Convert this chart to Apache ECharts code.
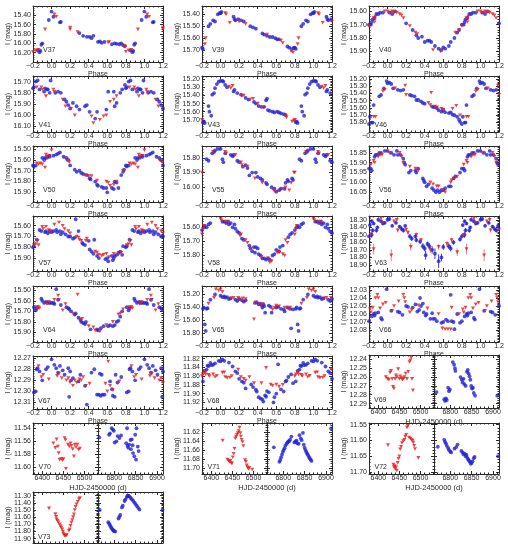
<!DOCTYPE html>
<html>
<head>
<meta charset="utf-8">
<script src="https://cdn.jsdelivr.net/npm/echarts@6/dist/echarts.min.js"></script>
<style>
html, body { margin: 0; padding: 0; background: #fff; }
#chart { width: 508px; height: 547px; }
</style>
</head>
<body>
<div id="chart"></div>
<script>
// phase-folded light curves: [phase, I mag] (phase 0..1, repeated on -0.2..1.2 when drawn)
var v37Blue = [[0.00,15.32],[0.02,15.43],[0.09,15.55],[0.10,15.54],[0.30,15.78],[0.34,15.84],[0.38,15.86],[0.41,15.86],[0.43,15.89],[0.45,15.84],[0.50,15.97],[0.52,15.96],[0.54,15.99],[0.57,15.97],[0.65,16.02],[0.68,16.00],[0.70,16.01],[0.73,16.02],[0.75,16.00],[0.77,16.04],[0.79,16.06],[0.85,16.15],[0.87,16.19],[0.88,16.16],[0.89,16.03],[0.90,16.00],[0.97,15.50]];
var v37Red = [[0.03,15.38],[0.05,15.43],[0.20,15.66],[0.20,15.70],[0.28,15.76],[0.61,15.98],[0.62,15.97],[0.78,16.06],[0.79,16.07],[0.80,16.18],[0.83,16.15],[0.86,16.14],[0.93,15.70]];
var v39Blue = [[0.00,15.39],[0.01,15.38],[0.14,15.42],[0.15,15.44],[0.16,15.45],[0.19,15.44],[0.22,15.45],[0.25,15.46],[0.32,15.50],[0.35,15.51],[0.38,15.52],[0.45,15.56],[0.47,15.57],[0.50,15.58],[0.53,15.59],[0.56,15.59],[0.59,15.60],[0.61,15.61],[0.63,15.61],[0.72,15.67],[0.74,15.68],[0.77,15.69],[0.79,15.68],[0.80,15.68],[0.81,15.69],[0.87,15.50],[0.89,15.48],[0.92,15.45],[0.94,15.46],[0.97,15.40],[0.99,15.39]];
var v39Red = [[0.05,15.39],[0.06,15.40],[0.10,15.47],[0.20,15.46],[0.27,15.48],[0.50,15.57],[0.65,15.62],[0.67,15.64],[0.76,15.71],[0.78,15.72],[0.83,15.65],[0.84,15.60]];
var v40Blue = [[0.02,15.61],[0.05,15.62],[0.08,15.60],[0.20,15.69],[0.27,15.74],[0.31,15.78],[0.33,15.80],[0.37,15.79],[0.40,15.83],[0.43,15.82],[0.45,15.82],[0.47,15.83],[0.51,15.86],[0.55,15.88],[0.58,15.89],[0.60,15.87],[0.62,15.88],[0.66,15.86],[0.68,15.83],[0.72,15.80],[0.75,15.76],[0.77,15.74],[0.80,15.70],[0.82,15.70],[0.83,15.68],[0.84,15.66],[0.86,15.65],[0.88,15.62],[0.90,15.62],[0.92,15.61],[0.95,15.61]];
var v40Red = [[0.00,15.60],[0.03,15.61],[0.05,15.60],[0.07,15.61],[0.10,15.61],[0.13,15.62],[0.15,15.63],[0.17,15.65],[0.24,15.71],[0.30,15.76],[0.32,15.77],[0.49,15.89],[0.57,15.90],[0.73,15.76],[0.77,15.74],[0.80,15.71],[0.85,15.65],[0.86,15.68],[0.87,15.64],[0.97,15.60]];
var v41Blue = [[0.04,15.80],[0.07,15.79],[0.10,15.80],[0.14,15.86],[0.16,15.88],[0.18,15.91],[0.20,15.94],[0.23,15.89],[0.27,15.92],[0.30,15.95],[0.36,15.92],[0.38,15.91],[0.41,15.97],[0.47,16.03],[0.49,15.97],[0.59,15.95],[0.61,15.79],[0.67,15.79],[0.68,15.92],[0.70,15.89],[0.74,15.80],[0.76,15.77],[0.79,15.73],[0.80,15.76],[0.81,15.75],[0.83,15.70],[0.85,15.69],[0.87,15.77],[0.92,15.79],[0.93,15.76],[0.95,15.77],[0.96,15.77],[0.98,15.80],[0.99,15.69]];
var v41Red = [[0.02,15.77],[0.03,15.79],[0.12,15.86],[0.15,15.92],[0.21,15.94],[0.25,16.00],[0.43,16.01],[0.45,16.07],[0.52,16.04],[0.56,16.01],[0.59,16.00],[0.63,15.88],[0.67,15.86],[0.70,15.83],[0.84,15.75],[0.89,15.75],[0.90,15.77],[0.94,15.83]];
var v43Blue = [[0.00,15.22],[0.02,15.22],[0.03,15.23],[0.05,15.27],[0.07,15.30],[0.14,15.35],[0.15,15.33],[0.18,15.37],[0.22,15.39],[0.27,15.43],[0.30,15.45],[0.36,15.48],[0.38,15.50],[0.41,15.53],[0.44,15.54],[0.47,15.54],[0.49,15.46],[0.50,15.44],[0.51,15.58],[0.53,15.59],[0.56,15.60],[0.58,15.61],[0.61,15.60],[0.63,15.61],[0.65,15.62],[0.68,15.63],[0.70,15.64],[0.81,15.73],[0.82,15.72],[0.83,15.74],[0.87,15.53],[0.88,15.60],[0.90,15.65],[0.91,15.39],[0.93,15.37],[0.94,15.31],[0.96,15.26],[0.98,15.23]];
var v43Red = [[0.09,15.29],[0.11,15.31],[0.13,15.28],[0.23,15.41],[0.25,15.40],[0.32,15.45],[0.35,15.44],[0.40,15.50],[0.46,15.55],[0.70,15.65],[0.71,15.67],[0.77,15.72],[0.79,15.71],[0.80,15.70]];
var v46Blue = [[0.00,15.26],[0.02,15.25],[0.04,15.27],[0.06,15.33],[0.11,15.35],[0.14,15.36],[0.17,15.35],[0.24,15.42],[0.26,15.43],[0.29,15.44],[0.31,15.49],[0.33,15.49],[0.36,15.51],[0.38,15.53],[0.40,15.54],[0.48,15.58],[0.50,15.59],[0.53,15.60],[0.55,15.63],[0.58,15.65],[0.60,15.63],[0.62,15.66],[0.66,15.67],[0.68,15.66],[0.70,15.69],[0.72,15.70],[0.75,15.72],[0.77,15.76],[0.78,15.79],[0.80,15.82],[0.81,15.72],[0.83,15.80],[0.84,15.80],[0.85,15.56],[0.91,15.44],[0.93,15.42],[0.96,15.33],[0.99,15.23]];
var v46Red = [[0.08,15.33],[0.19,15.29],[0.20,15.42],[0.44,15.53],[0.46,15.56],[0.47,15.39],[0.51,15.58],[0.53,15.59],[0.58,15.61],[0.60,15.62],[0.70,15.61],[0.74,15.57],[0.78,15.70],[0.85,15.72],[0.87,15.72],[0.95,15.37],[0.97,15.35]];
var v50Blue = [[0.02,15.56],[0.05,15.55],[0.07,15.54],[0.09,15.53],[0.13,15.57],[0.16,15.58],[0.18,15.60],[0.20,15.65],[0.25,15.69],[0.27,15.71],[0.30,15.70],[0.32,15.72],[0.34,15.73],[0.38,15.74],[0.41,15.77],[0.42,15.78],[0.47,15.80],[0.49,15.83],[0.50,15.84],[0.54,15.85],[0.56,15.86],[0.59,15.86],[0.60,15.90],[0.65,15.86],[0.67,15.87],[0.68,15.80],[0.70,15.81],[0.72,15.86],[0.75,15.74],[0.77,15.71],[0.78,15.69],[0.80,15.65],[0.81,15.66],[0.83,15.65],[0.90,15.58],[0.92,15.60],[0.93,15.58],[0.95,15.58],[0.97,15.56],[0.98,15.57]];
var v50Red = [[0.00,15.51],[0.16,15.60],[0.19,15.62],[0.36,15.74],[0.40,15.75],[0.43,15.75],[0.49,15.79],[0.59,15.80],[0.61,15.81],[0.63,15.84],[0.67,15.83],[0.70,15.80],[0.77,15.70],[0.84,15.63],[0.86,15.64],[0.88,15.63],[0.90,15.64],[0.93,15.67],[0.94,15.55],[0.95,15.57],[0.98,15.56]];
var v55Blue = [[0.00,15.74],[0.02,15.81],[0.03,15.83],[0.05,15.77],[0.11,15.78],[0.13,15.79],[0.14,15.78],[0.18,15.82],[0.20,15.83],[0.24,15.86],[0.27,15.85],[0.29,15.87],[0.31,15.92],[0.34,15.90],[0.38,15.90],[0.40,15.93],[0.43,15.94],[0.45,15.95],[0.49,15.97],[0.50,15.98],[0.55,16.00],[0.58,16.01],[0.60,16.03],[0.63,16.02],[0.65,16.01],[0.69,16.01],[0.70,15.97],[0.72,15.95],[0.73,15.96],[0.77,15.94],[0.78,15.95],[0.85,15.81],[0.87,15.82],[0.91,15.77],[0.93,15.76],[0.94,15.75],[0.97,15.74]];
var v55Red = [[0.05,15.76],[0.06,15.77],[0.16,15.78],[0.22,15.83],[0.23,15.85],[0.29,15.86],[0.37,15.94],[0.45,15.97],[0.57,16.02],[0.59,16.03],[0.66,16.01],[0.70,16.00],[0.74,16.02],[0.76,15.97],[0.79,15.90],[0.80,15.90],[0.92,15.76]];
var v56Blue = [[0.00,15.84],[0.04,15.85],[0.07,15.86],[0.10,15.84],[0.11,15.86],[0.14,15.86],[0.17,15.88],[0.18,15.90],[0.19,15.91],[0.23,15.95],[0.25,15.94],[0.30,15.94],[0.31,15.95],[0.33,15.93],[0.38,15.98],[0.39,15.99],[0.40,16.00],[0.42,16.02],[0.44,16.01],[0.48,16.03],[0.50,16.04],[0.52,16.05],[0.54,16.04],[0.56,16.05],[0.58,16.04],[0.60,16.04],[0.62,16.03],[0.66,16.02],[0.68,16.02],[0.71,15.98],[0.73,15.97],[0.78,15.95],[0.80,15.93],[0.82,15.93],[0.83,15.94],[0.86,15.87],[0.87,15.86],[0.89,15.86],[0.91,15.85],[0.93,15.85],[0.97,15.84]];
var v56Red = [[0.02,15.85],[0.13,15.85],[0.15,15.87],[0.17,15.90],[0.24,15.92],[0.30,15.93],[0.33,15.94],[0.46,16.00],[0.49,16.01],[0.53,16.02],[0.55,16.02],[0.59,16.04],[0.62,16.05],[0.68,16.00],[0.69,15.99],[0.72,15.98],[0.75,15.97],[0.82,15.91],[0.85,15.89],[0.86,15.90],[0.90,15.87],[0.92,15.86],[0.94,15.86]];
var v57Blue = [[0.00,15.66],[0.02,15.65],[0.05,15.64],[0.06,15.66],[0.09,15.65],[0.10,15.68],[0.12,15.66],[0.15,15.68],[0.18,15.70],[0.20,15.70],[0.23,15.72],[0.25,15.71],[0.26,15.54],[0.29,15.65],[0.33,15.76],[0.34,15.77],[0.36,15.78],[0.40,15.74],[0.41,15.82],[0.43,15.84],[0.45,15.86],[0.46,15.73],[0.49,15.88],[0.51,15.90],[0.58,15.91],[0.60,15.90],[0.61,15.93],[0.65,15.88],[0.66,15.92],[0.67,15.90],[0.68,15.88],[0.70,15.87],[0.72,15.85],[0.74,15.84],[0.76,15.87],[0.77,15.79],[0.80,15.80],[0.81,15.79],[0.84,15.73],[0.87,15.64],[0.89,15.65],[0.93,15.66],[0.94,15.65],[0.96,15.67],[0.98,15.65]];
var v57Red = [[0.03,15.59],[0.08,15.57],[0.12,15.60],[0.14,15.63],[0.18,15.65],[0.20,15.67],[0.27,15.70],[0.29,15.71],[0.30,15.73],[0.32,15.74],[0.37,15.74],[0.38,15.72],[0.47,15.84],[0.49,15.85],[0.51,15.87],[0.54,15.88],[0.56,15.87],[0.59,15.86],[0.62,15.89],[0.67,15.86],[0.72,15.87],[0.75,15.85],[0.81,15.78],[0.83,15.77],[0.85,15.74],[0.86,15.78],[0.90,15.61],[0.91,15.63],[0.94,15.61],[0.97,15.64],[0.99,15.65]];
var v58Blue = [[0.02,15.56],[0.04,15.56],[0.06,15.57],[0.08,15.56],[0.09,15.58],[0.11,15.57],[0.13,15.60],[0.15,15.58],[0.16,15.61],[0.18,15.63],[0.20,15.64],[0.23,15.68],[0.25,15.69],[0.31,15.73],[0.32,15.75],[0.34,15.77],[0.36,15.74],[0.37,15.78],[0.38,15.74],[0.40,15.75],[0.41,15.79],[0.43,15.80],[0.45,15.82],[0.47,15.82],[0.49,15.83],[0.51,15.82],[0.53,15.83],[0.56,15.80],[0.58,15.79],[0.60,15.76],[0.63,15.77],[0.64,15.74],[0.67,15.73],[0.73,15.67],[0.75,15.65],[0.77,15.64],[0.80,15.62],[0.82,15.60],[0.83,15.59],[0.85,15.60],[0.87,15.58],[0.89,15.57]];
var v58Red = [[0.00,15.54],[0.01,15.55],[0.05,15.56],[0.08,15.56],[0.21,15.66],[0.22,15.65],[0.27,15.69],[0.29,15.71],[0.33,15.75],[0.44,15.81],[0.51,15.82],[0.53,15.85],[0.55,15.84],[0.61,15.78],[0.63,15.78],[0.67,15.79],[0.69,15.80],[0.70,15.69],[0.72,15.71],[0.80,15.65],[0.81,15.61],[0.82,15.59]];
// V63 has error bars: [phase, mag, error]
var v63Blue = [[0.00,18.30,0.02],[0.02,18.29,0.02],[0.05,18.38,0.02],[0.09,18.34,0.02],[0.13,18.39,0.02],[0.15,18.42,0.03],[0.17,18.44,0.03],[0.19,18.38,0.02],[0.24,18.52,0.03],[0.26,18.55,0.03],[0.30,18.52,0.03],[0.31,18.57,0.03],[0.35,18.59,0.03],[0.38,18.65,0.04],[0.40,18.68,0.04],[0.41,18.77,0.06],[0.43,18.62,0.03],[0.45,18.65,0.04],[0.48,18.70,0.05],[0.51,18.75,0.07],[0.55,18.85,0.09],[0.58,18.80,0.05],[0.60,18.66,0.04],[0.66,18.65,0.04],[0.68,18.68,0.04],[0.71,18.60,0.03],[0.78,18.56,0.03],[0.80,18.52,0.03],[0.81,18.37,0.02],[0.83,18.32,0.02],[0.83,18.50,0.04],[0.84,18.44,0.03],[0.85,18.35,0.02],[0.88,18.44,0.03],[0.89,18.40,0.02],[0.90,18.30,0.02],[0.93,18.32,0.02],[0.95,18.35,0.02],[0.97,18.34,0.02]];
var v63Red = [[0.04,18.77,0.08],[0.07,18.32,0.02],[0.10,18.30,0.02],[0.11,18.44,0.03],[0.20,18.43,0.03],[0.22,18.47,0.03],[0.25,18.66,0.05],[0.31,18.50,0.03],[0.36,18.57,0.03],[0.46,18.70,0.04],[0.55,18.66,0.04],[0.64,18.62,0.04],[0.69,18.57,0.03],[0.75,18.73,0.05],[0.82,18.50,0.03],[0.85,18.69,0.07],[0.93,18.28,0.02],[0.95,18.34,0.02]];
var v64Blue = [[0.00,15.62],[0.02,15.62],[0.03,15.63],[0.05,15.49],[0.07,15.59],[0.10,15.64],[0.16,15.66],[0.18,15.67],[0.19,15.68],[0.21,15.70],[0.25,15.73],[0.26,15.72],[0.29,15.76],[0.31,15.78],[0.32,15.80],[0.34,15.81],[0.36,15.82],[0.37,15.80],[0.42,15.87],[0.49,15.87],[0.50,15.88],[0.53,15.86],[0.56,15.84],[0.61,15.84],[0.63,15.83],[0.66,15.84],[0.68,15.83],[0.70,15.80],[0.72,15.79],[0.74,15.75],[0.76,15.70],[0.81,15.66],[0.83,15.69],[0.84,15.67],[0.89,15.58],[0.90,15.60],[0.92,15.62],[0.94,15.61],[0.96,15.62],[0.98,15.62]];
var v64Red = [[0.03,15.59],[0.07,15.55],[0.08,15.59],[0.12,15.69],[0.15,15.63],[0.23,15.72],[0.28,15.54],[0.31,15.78],[0.33,15.77],[0.40,15.84],[0.45,15.85],[0.47,15.88],[0.52,15.89],[0.59,15.83],[0.66,15.80],[0.72,15.73],[0.74,15.72],[0.77,15.68],[0.84,15.66],[0.85,15.67],[0.86,15.66],[0.87,15.67],[0.95,15.63],[0.97,15.61]];
var v65Blue = [[0.00,15.22],[0.02,15.24],[0.04,15.23],[0.05,15.25],[0.07,15.24],[0.09,15.27],[0.11,15.26],[0.16,15.28],[0.18,15.30],[0.20,15.27],[0.23,15.29],[0.25,15.31],[0.27,15.29],[0.37,15.33],[0.39,15.32],[0.41,15.35],[0.43,15.34],[0.44,15.36],[0.45,15.40],[0.46,15.35],[0.47,15.38],[0.48,15.48],[0.52,15.37],[0.54,15.39],[0.55,15.48],[0.60,15.40],[0.62,15.39],[0.65,15.42],[0.68,15.43],[0.69,15.46],[0.72,15.40],[0.75,15.42],[0.76,15.72],[0.78,15.43],[0.81,15.42],[0.82,15.40],[0.83,15.66],[0.84,15.76],[0.85,15.42],[0.86,15.41],[0.89,15.28],[0.94,15.20]];
var v65Red = [[0.00,15.12],[0.02,15.16],[0.11,15.26],[0.14,15.25],[0.19,15.25],[0.21,15.28],[0.24,15.26],[0.27,15.27],[0.36,15.58],[0.38,15.32],[0.43,15.36],[0.45,15.35],[0.56,15.43],[0.58,15.40],[0.60,15.37],[0.63,15.38],[0.69,15.40],[0.73,15.42],[0.75,15.40],[0.87,15.34],[0.93,15.25],[0.95,15.12],[0.98,15.14]];
var v66Blue = [[0.04,12.056],[0.11,12.057],[0.13,12.058],[0.16,12.061],[0.20,12.050],[0.22,12.051],[0.27,12.052],[0.30,12.048],[0.32,12.057],[0.34,12.055],[0.35,12.040],[0.36,12.050],[0.38,12.047],[0.39,12.058],[0.41,12.062],[0.42,12.060],[0.46,12.066],[0.48,12.059],[0.49,12.066],[0.51,12.066],[0.53,12.069],[0.58,12.071],[0.60,12.070],[0.63,12.067],[0.65,12.069],[0.68,12.036],[0.69,12.069],[0.71,12.070],[0.72,12.079],[0.75,12.060],[0.78,12.071],[0.80,12.069],[0.83,12.063],[0.85,12.060],[0.86,12.062],[0.87,12.059],[0.90,12.058],[0.93,12.065],[0.94,12.067],[0.99,12.029]];
var v66Red = [[0.05,12.056],[0.07,12.050],[0.12,12.044],[0.17,12.036],[0.18,12.040],[0.19,12.045],[0.24,12.058],[0.26,12.055],[0.33,12.049],[0.43,12.053],[0.55,12.060],[0.59,12.078],[0.62,12.079],[0.65,12.079],[0.68,12.079],[0.69,12.052],[0.77,12.060],[0.81,12.054],[0.82,12.058],[0.84,12.052],[0.87,12.040],[0.89,12.036],[0.90,12.040],[0.92,12.053],[0.95,12.048],[0.98,12.046]];
var v67Blue = [[0.00,12.271],[0.03,12.276],[0.05,12.279],[0.07,12.283],[0.09,12.277],[0.12,12.281],[0.14,12.285],[0.18,12.279],[0.19,12.305],[0.20,12.282],[0.21,12.290],[0.23,12.288],[0.29,12.291],[0.31,12.285],[0.36,12.295],[0.38,12.312],[0.43,12.283],[0.46,12.280],[0.49,12.303],[0.51,12.303],[0.52,12.284],[0.53,12.304],[0.54,12.285],[0.55,12.303],[0.57,12.303],[0.63,12.291],[0.65,12.298],[0.66,12.304],[0.68,12.305],[0.69,12.285],[0.71,12.292],[0.75,12.287],[0.81,12.301],[0.83,12.300],[0.84,12.280],[0.85,12.279],[0.87,12.282],[0.90,12.290],[0.94,12.280],[0.96,12.278]];
var v67Red = [[0.06,12.286],[0.08,12.284],[0.11,12.288],[0.16,12.290],[0.18,12.288],[0.20,12.292],[0.23,12.295],[0.25,12.290],[0.27,12.292],[0.30,12.289],[0.32,12.290],[0.34,12.287],[0.37,12.295],[0.41,12.293],[0.58,12.293],[0.60,12.300],[0.61,12.273],[0.63,12.295],[0.66,12.299],[0.73,12.291],[0.86,12.277],[0.89,12.287],[0.91,12.285],[0.97,12.289]];
var v68Blue = [[0.00,11.826],[0.02,11.822],[0.04,11.825],[0.09,11.829],[0.13,11.838],[0.16,11.849],[0.18,11.853],[0.20,11.866],[0.23,11.872],[0.25,11.875],[0.27,11.888],[0.33,11.879],[0.35,11.885],[0.38,11.891],[0.39,11.895],[0.41,11.908],[0.43,11.911],[0.45,11.913],[0.46,11.918],[0.48,11.904],[0.49,11.907],[0.50,11.894],[0.52,11.897],[0.57,11.920],[0.58,11.908],[0.60,11.900],[0.62,11.833],[0.65,11.890],[0.68,11.895],[0.70,11.872],[0.71,11.870],[0.73,11.862],[0.76,11.856],[0.78,11.876],[0.81,11.872],[0.83,11.848],[0.85,11.845],[0.86,11.836],[0.87,11.837],[0.89,11.830],[0.90,11.835],[0.92,11.834],[0.94,11.831],[0.98,11.825]];
var v68Red = [[0.02,11.852],[0.04,11.851],[0.05,11.862],[0.07,11.864],[0.10,11.863],[0.12,11.860],[0.19,11.845],[0.22,11.862],[0.25,11.866],[0.27,11.870],[0.31,11.862],[0.36,11.876],[0.44,11.876],[0.49,11.841],[0.54,11.879],[0.56,11.882],[0.60,11.879],[0.63,11.884],[0.67,11.880],[0.80,11.860],[0.81,11.856],[0.83,11.851],[0.84,11.856],[0.87,11.857],[0.88,11.860],[0.92,11.856],[0.94,11.862],[0.96,11.859]];

// time series: [HJD-2450000, I mag], red = first season, blue = second season
var v69Red = [[6418,12.260],[6422,12.262],[6425,12.263],[6428,12.255],[6430,12.253],[6433,12.262],[6435,12.271],[6437,12.273],[6440,12.262],[6442,12.258],[6444,12.260],[6447,12.251],[6450,12.262],[6452,12.259],[6455,12.261],[6457,12.263],[6459,12.262],[6462,12.260],[6465,12.256],[6468,12.262],[6471,12.254],[6474,12.243],[6476,12.241],[6478,12.238],[6480,12.262],[6482,12.275]];
var v69Blue = [[6768,12.277],[6786,12.285],[6788,12.287],[6790,12.284],[6792,12.286],[6795,12.272],[6797,12.276],[6799,12.274],[6806,12.243],[6809,12.246],[6811,12.250],[6812,12.253],[6824,12.260],[6827,12.263],[6829,12.266],[6831,12.262],[6833,12.268],[6836,12.270],[6839,12.254],[6841,12.252],[6843,12.256],[6845,12.259],[6847,12.263],[6849,12.270],[6851,12.273],[6853,12.272],[6855,12.278],[6858,12.281],[6910,12.281]];
var v70Red = [[6426,11.563],[6431,11.570],[6434,11.557],[6437,11.568],[6439,11.578],[6441,11.588],[6445,11.587],[6448,11.589],[6450,11.587],[6453,11.555],[6455,11.558],[6456,11.602],[6461,11.565],[6464,11.568],[6467,11.563],[6469,11.567],[6472,11.572],[6475,11.583],[6477,11.565],[6480,11.569],[6483,11.565],[6486,11.573],[6489,11.571]];
var v70Blue = [[6765,11.554],[6788,11.550],[6790,11.548],[6794,11.540],[6797,11.542],[6799,11.544],[6801,11.562],[6805,11.560],[6808,11.552],[6812,11.555],[6816,11.551],[6828,11.563],[6830,11.540],[6831,11.567],[6833,11.570],[6835,11.565],[6838,11.558],[6839,11.572],[6841,11.557],[6843,11.566],[6844,11.578],[6847,11.583],[6849,11.550],[6851,11.588],[6852,11.540],[6855,11.568],[6857,11.575]];
var v71Red = [[6427,11.639],[6438,11.681],[6441,11.683],[6443,11.686],[6445,11.684],[6447,11.688],[6449,11.690],[6451,11.676],[6453,11.668],[6455,11.657],[6457,11.634],[6459,11.630],[6461,11.626],[6463,11.622],[6465,11.618],[6467,11.610],[6469,11.622],[6470,11.630],[6472,11.637],[6474,11.642],[6476,11.651],[6480,11.682],[6482,11.686],[6484,11.694],[6486,11.698],[6488,11.702],[6490,11.699],[6497,11.703]];
var v71Blue = [[6778,11.654],[6791,11.686],[6793,11.682],[6795,11.676],[6797,11.670],[6799,11.664],[6801,11.660],[6803,11.656],[6805,11.650],[6808,11.646],[6810,11.643],[6812,11.641],[6814,11.640],[6816,11.637],[6819,11.630],[6826,11.643],[6829,11.641],[6831,11.639],[6833,11.645],[6836,11.646],[6838,11.627],[6841,11.634],[6843,11.638],[6846,11.622],[6848,11.648],[6850,11.655],[6852,11.660],[6854,11.664],[6856,11.668],[6858,11.671],[6860,11.675],[6862,11.678],[6864,11.681],[6866,11.684],[6912,11.612]];
var v72Red = [[6423,11.615],[6436,11.676],[6437,11.684],[6439,11.681],[6440,11.690],[6442,11.685],[6444,11.695],[6446,11.671],[6448,11.658],[6450,11.650],[6452,11.628],[6454,11.620],[6456,11.608],[6459,11.602],[6462,11.598],[6464,11.588],[6466,11.582],[6468,11.559],[6470,11.554],[6473,11.591],[6476,11.594],[6479,11.598],[6481,11.601],[6483,11.607],[6485,11.617],[6487,11.627],[6495,11.655]];
var v72Blue = [[6771,11.620],[6786,11.598],[6788,11.605],[6790,11.610],[6792,11.617],[6795,11.624],[6797,11.630],[6800,11.635],[6802,11.638],[6810,11.626],[6814,11.621],[6817,11.613],[6826,11.633],[6829,11.638],[6831,11.644],[6834,11.642],[6836,11.650],[6838,11.646],[6840,11.655],[6842,11.660],[6844,11.664],[6846,11.668],[6848,11.674],[6850,11.671],[6852,11.666],[6855,11.656],[6857,11.652],[6912,11.650]];
var v73Red = [[6416,11.478],[6431,11.558],[6433,11.596],[6434,11.630],[6436,11.650],[6438,11.672],[6441,11.700],[6443,11.725],[6445,11.745],[6447,11.770],[6449,11.800],[6450,11.830],[6452,11.850],[6454,11.862],[6456,11.858],[6458,11.850],[6463,11.790],[6465,11.770],[6467,11.720],[6469,11.675],[6471,11.640],[6473,11.600],[6475,11.560],[6477,11.500],[6479,11.455],[6481,11.420],[6484,11.385],[6487,11.350],[6489,11.333]];
var v73Blue = [[6766,11.500],[6786,11.670],[6788,11.690],[6790,11.712],[6792,11.735],[6794,11.755],[6796,11.772],[6798,11.785],[6800,11.795],[6802,11.800],[6810,11.620],[6812,11.595],[6814,11.570],[6818,11.465],[6820,11.440],[6824,11.375],[6826,11.355],[6829,11.320],[6831,11.305],[6833,11.300],[6835,11.310],[6838,11.330],[6841,11.350],[6844,11.372],[6847,11.395],[6850,11.420],[6853,11.445],[6856,11.470],[6859,11.495],[6913,11.500]];

// tick labels
var phaseTicks = [-0.2, 0.0, 0.2, 0.4, 0.6, 0.8, 1.0, 1.2];
var hjdTicksA = [6400, 6450, 6500];
var hjdTicksB = [6800, 6850, 6900];

var phasePanels = [
  { id: 'V37', col: 0, row: 0, y: [15.2, 16.4], yt: [15.4, 15.6, 15.8, 16.0, 16.2], ym: 0.05, blue: v37Blue, red: v37Red },
  { id: 'V39', col: 1, row: 0, y: [15.33, 15.80], yt: [15.4, 15.5, 15.6, 15.7], ym: 0.02, blue: v39Blue, red: v39Red },
  { id: 'V40', col: 2, row: 0, y: [15.56, 15.98], yt: [15.6, 15.7, 15.8, 15.9], ym: 0.02, blue: v40Blue, red: v40Red },
  { id: 'V41', col: 0, row: 1, y: [15.65, 16.15], yt: [15.7, 15.8, 15.9, 16.0, 16.1], ym: 0.02, blue: v41Blue, red: v41Red },
  { id: 'V43', col: 1, row: 1, y: [15.16, 15.85], yt: [15.2, 15.3, 15.4, 15.5, 15.6, 15.7], ym: 0.02, blue: v43Blue, red: v43Red },
  { id: 'V46', col: 2, row: 1, y: [15.16, 15.93], yt: [15.2, 15.3, 15.4, 15.5, 15.6, 15.7, 15.8], ym: 0.02, blue: v46Blue, red: v46Red },
  { id: 'V50', col: 0, row: 2, y: [15.47, 15.99], yt: [15.5, 15.6, 15.7, 15.8, 15.9], ym: 0.02, blue: v50Blue, red: v50Red },
  { id: 'V55', col: 1, row: 2, y: [15.72, 16.10], yt: [15.8, 15.9, 16.0], ym: 0.02, blue: v55Blue, red: v55Red },
  { id: 'V56', col: 2, row: 2, y: [15.815, 16.10], yt: [15.85, 15.9, 15.95, 16.0, 16.05], ym: 0.01, blue: v56Blue, red: v56Red },
  { id: 'V57', col: 0, row: 3, y: [15.51, 16.02], yt: [15.6, 15.7, 15.8, 15.9], ym: 0.02, blue: v57Blue, red: v57Red },
  { id: 'V58', col: 1, row: 3, y: [15.52, 15.91], yt: [15.6, 15.7, 15.8], ym: 0.02, blue: v58Blue, red: v58Red },
  { id: 'V63', col: 2, row: 3, y: [18.25, 18.98], yt: [18.3, 18.4, 18.5, 18.6, 18.7, 18.8, 18.9], ym: 0.02, blue: v63Blue, red: v63Red, err: true },
  { id: 'V64', col: 0, row: 4, y: [15.46, 15.99], yt: [15.5, 15.6, 15.7, 15.8, 15.9], ym: 0.02, blue: v64Blue, red: v64Red },
  { id: 'V65', col: 1, row: 4, y: [15.07, 15.93], yt: [15.2, 15.4, 15.6, 15.8], ym: 0.05, blue: v65Blue, red: v65Red },
  { id: 'V66', col: 2, row: 4, y: [12.025, 12.095], yt: [12.03, 12.04, 12.05, 12.06, 12.07, 12.08], ym: 0.002, blue: v66Blue, red: v66Red },
  { id: 'V67', col: 0, row: 5, y: [12.268, 12.316], yt: [12.27, 12.28, 12.29, 12.30, 12.31], ym: 0.002, blue: v67Blue, red: v67Red },
  { id: 'V68', col: 1, row: 5, y: [11.814, 11.935], yt: [11.82, 11.84, 11.86, 11.88, 11.90, 11.92], ym: 0.005, blue: v68Blue, red: v68Red }
];
var timePanels = [
  { id: 'V69', col: 2, row: 5, y: [12.235, 12.295], yt: [12.24, 12.25, 12.26, 12.27, 12.28, 12.29], ym: 0.002, blue: v69Blue, red: v69Red },
  { id: 'V70', col: 0, row: 6, y: [11.532, 11.610], yt: [11.54, 11.56, 11.58, 11.60], ym: 0.005, blue: v70Blue, red: v70Red },
  { id: 'V71', col: 1, row: 6, y: [11.60, 11.713], yt: [11.62, 11.64, 11.66, 11.68, 11.70], ym: 0.005, blue: v71Blue, red: v71Red },
  { id: 'V72', col: 2, row: 6, y: [11.545, 11.706], yt: [11.55, 11.60, 11.65, 11.70], ym: 0.01, blue: v72Blue, red: v72Red },
  { id: 'V73', col: 0, row: 7, y: [11.25, 11.96], yt: [11.3, 11.4, 11.5, 11.6, 11.7, 11.8, 11.9], ym: 0.02, blue: v73Blue, red: v73Red, noX: true }
];

var RED = '#e81a1a', BLUE = '#2222d8', INK = '#2a2a2a';
var FONT = 'Liberation Sans';
var colLeft = [33, 202, 369];
var PW = 130;
var rowTop = [6, 76, 146, 216, 286, 356, 423, 492];
var rowH = [56, 56, 56, 55, 56, 53, 51, 51];
var labelDx = [10, 5.5, 10, 5.5, 10, 5, 5.5, 5];
var labelDy = [11, 6, 11, 7, 11, 7, 6, 5];

var grids = [], xAxes = [], yAxes = [], series = [], texts = [];

// phase curves are shown twice: points are repeated one cycle earlier/later inside -0.2..1.2
function fold(pts) {
  var out = [];
  pts.forEach(function (p) {
    [-1, 0, 1].forEach(function (k) {
      var x = +(p[0] + k).toFixed(4);
      if (x >= -0.2 && x <= 1.2) out.push([x].concat(p.slice(1)));
    });
  });
  return out;
}

function minorList(min, max, step, majors) {
  var out = [];
  var n0 = Math.ceil(min / step - 1e-6), n1 = Math.floor(max / step + 1e-6);
  for (var n = n0; n <= n1; n++) {
    var v = +(n * step).toFixed(6);
    if (!majors.some(function (m) { return Math.abs(m - v) < step / 10; })) out.push(v);
  }
  return out;
}

var labelStyle = { fontSize: 7, color: INK, fontFamily: FONT };

function addAxes(list, dim, g, min, max, ticks, minorStep, opt) {
  var pos = dim === 'x' ? ['bottom', 'top'] : ['left', 'right'];
  var start = list.length;
  var minors = minorList(min, max, minorStep, ticks);
  pos.forEach(function (p, k) {
    var main = {
      gridIndex: g, type: 'value', position: p, min: min, max: max, inverse: dim === 'y',
      axisLine: { show: true, onZero: false, lineStyle: { color: INK, width: 1 } },
      axisTick: { show: true, inside: true, length: 3, customValues: ticks, lineStyle: { color: INK, width: 1 } },
      axisLabel: { show: false },
      splitLine: { show: false }
    };
    if (k === 0 && opt.labels) {
      main.axisLabel = Object.assign({ show: true, customValues: ticks, formatter: opt.fmt, margin: dim === 'x' ? 1 : 2 }, labelStyle);
    }
    if (k === 0 && opt.name) {
      main.name = opt.name;
      main.nameLocation = 'middle';
      main.nameGap = opt.nameGap;
      main.nameMoveOverlap = false;
      main.nameTextStyle = labelStyle;
    }
    list.push(main);
    list.push({
      gridIndex: g, type: 'value', position: p, min: min, max: max, inverse: dim === 'y',
      axisLine: { show: false, onZero: false },
      axisTick: { show: true, inside: true, length: 1.5, customValues: minors, lineStyle: { color: INK, width: 1 } },
      axisLabel: { show: false },
      splitLine: { show: false }
    });
  });
  return start;
}

function fmtPhase(v) { return (v < 0 ? '\u2212' : '') + Math.abs(v).toFixed(1); }
function fmtMag(v) { return v.toFixed(2); }
function fmtDay(v) { return String(v); }

function addPoints(xi, yi, blue, red, err) {
  if (err) {
    [[blue, BLUE, 0.9], [red, RED, 0.55]].forEach(function (s) {
      series.push({
        type: 'custom', xAxisIndex: xi, yAxisIndex: yi, data: s[0], silent: true, clip: true,
        encode: { x: 0, y: 1 },
        renderItem: function (params, api) {
          var a = api.coord([api.value(0), api.value(1) - api.value(2)]);
          var b = api.coord([api.value(0), api.value(1) + api.value(2)]);
          return { type: 'line', shape: { x1: a[0], y1: a[1], x2: b[0], y2: b[1] },
            style: { stroke: s[1], lineWidth: 1, opacity: s[2] } };
        }
      });
    });
  }
  series.push({ type: 'scatter', xAxisIndex: xi, yAxisIndex: yi, data: blue, symbol: 'circle', symbolSize: 3.8,
    itemStyle: { color: BLUE }, clip: true, silent: true });
  series.push({ type: 'scatter', xAxisIndex: xi, yAxisIndex: yi, data: red, symbol: 'triangle', symbolRotate: 180,
    symbolSize: [4, 3.6], itemStyle: { color: RED }, clip: true, silent: true });
}

function panelLabel(p, left, bottom) {
  texts.push({ type: 'text', left: left + labelDx[p.row], top: bottom - labelDy[p.row] - 4,
    style: { text: p.id, fontSize: 7, fill: INK, fontFamily: FONT }, silent: true });
}

phasePanels.forEach(function (p) {
  var g = grids.length;
  var left = colLeft[p.col], top = rowTop[p.row], h = rowH[p.row];
  grids.push({ left: left, top: top, width: PW, height: h, outerBoundsMode: 'none' });
  var xi = addAxes(xAxes, 'x', g, -0.2, 1.2, phaseTicks, 0.05, { labels: true, fmt: fmtPhase, name: 'Phase', nameGap: 9 });
  var yi = addAxes(yAxes, 'y', g, p.y[0], p.y[1], p.yt, p.ym, { labels: true, fmt: fmtMag, name: 'I (mag)', nameGap: 21 });
  addPoints(xi, yi, fold(p.blue), fold(p.red), p.err);
  panelLabel(p, left, top + h);
});

timePanels.forEach(function (p) {
  var left = colLeft[p.col], top = rowTop[p.row], h = rowH[p.row];
  if (p.row === 5) { top = 355; h = 53; }
  var half = PW / 2;
  // first season
  var g = grids.length;
  grids.push({ left: left, top: top, width: half, height: h, outerBoundsMode: 'none' });
  var xi = addAxes(xAxes, 'x', g, 6378, 6532, hjdTicksA, 10, { labels: !p.noX, fmt: fmtDay });
  var yi = addAxes(yAxes, 'y', g, p.y[0], p.y[1], p.yt, p.ym, { labels: true, fmt: fmtMag, name: 'I (mag)', nameGap: 21 });
  addPoints(xi, yi, [], p.red, false);
  // second season
  g = grids.length;
  grids.push({ left: left + half, top: top, width: half, height: h, outerBoundsMode: 'none' });
  xi = addAxes(xAxes, 'x', g, 6762, 6914, hjdTicksB, 10, { labels: !p.noX, fmt: fmtDay });
  yi = addAxes(yAxes, 'y', g, p.y[0], p.y[1], p.yt, p.ym, { labels: false });
  addPoints(xi, yi, p.blue, [], false);
  if (!p.noX) {
    texts.push({ type: 'text', x: left + PW / 2, y: top + h + 10,
      style: { text: 'HJD-2450000 (d)', fontSize: 7.5, fill: INK, fontFamily: FONT, align: 'center' }, silent: true });
  }
  panelLabel(p, left, top + h);
});

var chart = echarts.init(document.getElementById('chart'));
chart.setOption({
  animation: false,
  backgroundColor: '#fff',
  grid: grids,
  xAxis: xAxes,
  yAxis: yAxes,
  series: series,
  graphic: texts
});
</script>
</body>
</html>
